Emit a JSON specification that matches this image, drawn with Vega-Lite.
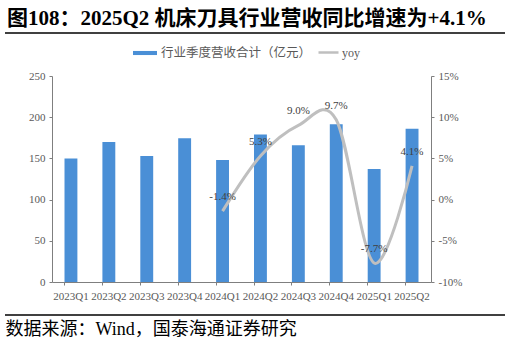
{
  "$schema": "https://vega.github.io/schema/vega-lite/v6.json",
  "autosize": {"type": "none"},
  "width": 379,
  "height": 206,
  "padding": {"left": 52, "top": 76, "right": 79, "bottom": 60},
  "background": "white",
  "config": {
    "view": {"stroke": null},
    "font": "Liberation Serif, Noto Sans CJK SC",
    "locale": {"number": {"decimal": ".", "thousands": ",", "grouping": [3], "currency": ["$", ""], "minus": "-"}},
    "axis": {"labelFont": "Liberation Serif", "labelColor": "#595959", "labelFontSize": 11, "domainColor": "#7f7f7f", "tickColor": "#7f7f7f", "grid": false}
  },
  "title": {
    "text": "图108：2025Q2 机床刀具行业营收同比增速为+4.1%",
    "anchor": "start",
    "frame": "group",
    "font": "Liberation Serif, Noto Sans CJK SC",
    "fontSize": 21,
    "fontWeight": "bold",
    "color": "#000000",
    "dx": -45,
    "offset": 3
  },
  "data": {
    "values": [
      {"q": "2023Q1", "rev": 150},
      {"q": "2023Q2", "rev": 170},
      {"q": "2023Q3", "rev": 153},
      {"q": "2023Q4", "rev": 174.5},
      {"q": "2024Q1", "rev": 148, "yoy": -0.014},
      {"q": "2024Q2", "rev": 179, "yoy": 0.053},
      {"q": "2024Q3", "rev": 166, "yoy": 0.09},
      {"q": "2024Q4", "rev": 191.5, "yoy": 0.097},
      {"q": "2025Q1", "rev": 137, "yoy": -0.077},
      {"q": "2025Q2", "rev": 186, "yoy": 0.041}
    ]
  },
  "encoding": {
    "x": {
      "field": "q", "type": "nominal", "sort": null,
      "scale": {"paddingInner": 0.66, "paddingOuter": 0.33},
      "axis": {
        "labelAngle": 0, "labelFontSize": 11, "labelPadding": 5, "bandPosition": 0, "tickSize": 3,
        "title": "数据来源：Wind，国泰海通证券研究",
        "titleFont": "Liberation Serif, Noto Sans CJK SC",
        "titleFontSize": 18, "titleFontWeight": "normal", "titleColor": "#000000",
        "titleAnchor": "start", "titleAlign": "left", "titleBaseline": "alphabetic",
        "titleX": -47, "titleY": 52
      }
    }
  },
  "layer": [
    {
      "mark": {"type": "bar", "color": "#4a8fd6"},
      "encoding": {
        "y": {
          "field": "rev", "type": "quantitative",
          "scale": {"domain": [0, 250]},
          "axis": {"values": [0, 50, 100, 150, 200, 250], "title": null, "tickSize": 3, "labelPadding": 4}
        },
        "fill": {
          "datum": "行业季度营收合计（亿元）",
          "type": "nominal",
          "scale": {"range": ["#4a8fd6"]},
          "legend": {
            "orient": "none", "legendX": 81, "legendY": -35, "title": null,
            "symbolType": "M-1,-0.17H1V0.17H-1Z", "symbolSize": 576, "symbolStrokeWidth": 0,
            "labelFont": "Noto Sans CJK SC", "labelFontSize": 12.5, "labelColor": "#595959", "labelOffset": 4, "padding": 0
          }
        }
      }
    },
    {
      "mark": {"type": "line", "color": "#bfbfbf", "strokeWidth": 3, "interpolate": "cardinal"},
      "encoding": {
        "y": {
          "field": "yoy", "type": "quantitative",
          "scale": {"domain": [-0.1, 0.15]},
          "axis": {"orient": "right", "values": [-0.1, -0.05, 0, 0.05, 0.1, 0.15], "format": ".0%", "title": null, "tickSize": 3, "labelPadding": 4}
        },
        "stroke": {
          "datum": "yoy",
          "type": "nominal",
          "scale": {"range": ["#bfbfbf"]},
          "legend": {
            "orient": "none", "legendX": 265, "legendY": -35, "title": null,
            "symbolType": "stroke", "symbolSize": 400, "symbolStrokeWidth": 2.5,
            "labelFont": "Liberation Serif", "labelFontSize": 12, "labelColor": "#595959", "labelOffset": 2, "padding": 0
          }
        }
      }
    },
    {
      "mark": {"type": "text", "dy": -14, "fontSize": 11, "font": "Liberation Serif", "color": "#404040"},
      "encoding": {
        "y": {"field": "yoy", "type": "quantitative", "scale": {"domain": [-0.1, 0.15]}, "axis": null},
        "text": {"field": "yoy", "type": "quantitative", "format": ".1%"}
      }
    },
    {
      "data": {"values": [{"pos": "top"}, {"pos": "bottom"}]},
      "mark": {"type": "rule", "color": "#000000", "strokeWidth": 1.3},
      "encoding": {
        "x": {"value": -47},
        "x2": {"value": 453},
        "y": {"field": "pos", "type": "nominal", "scale": {"type": "point", "domain": ["top", "bottom"], "range": [-43, 239], "padding": 0}, "axis": null}
      }
    }
  ],
  "resolve": {"scale": {"y": "independent", "fill": "independent", "stroke": "independent"}}
}
